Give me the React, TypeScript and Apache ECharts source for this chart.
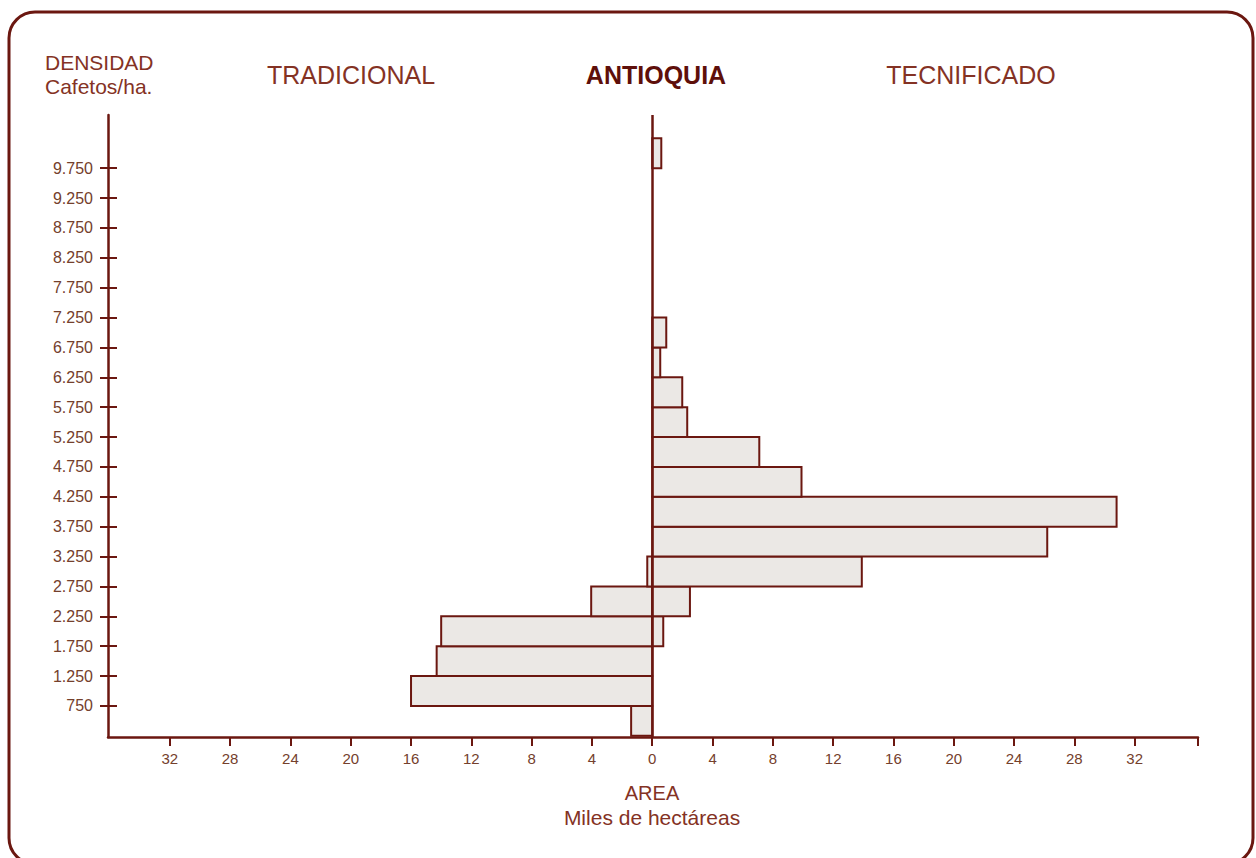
import React, { useEffect, useRef } from "react";
import * as echarts from "echarts";

const densities = [500, 1000, 1500, 2000, 2500, 3000, 3500, 4000, 4500, 5000, 5500, 6000, 6500, 7000, 7500, 8000, 8500, 9000, 9500, 10000];
const tradicional = [1.4, 16.0, 14.3, 14.0, 4.05, 0.33, 0, 0, 0, 0, 0, 0, 0, 0, 0, 0, 0, 0, 0, 0];
const tecnificado = [0, 0, 0, 0.73, 2.5, 13.9, 26.2, 30.8, 9.9, 7.1, 2.32, 1.99, 0.53, 0.93, 0, 0, 0, 0, 0, 0.6];
const xTickValues = [-32, -28, -24, -20, -16, -12, -8, -4, 0, 4, 8, 12, 16, 20, 24, 28, 32];
const yTickValues = [750, 1250, 1750, 2250, 2750, 3250, 3750, 4250, 4750, 5250, 5750, 6250, 6750, 7250, 7750, 8250, 8750, 9250, 9750];
const bandHalf = 250;
const xMin = -36.1;
const xMax = 36.2;
const yMin = 230;
const yMax = 10640;

const AXIS = "#6b1710";
const LABEL = "#74402c";
const TITLE = "#843224";
const FILL = "#ebe8e5";
const FONT = "'Liberation Sans', Arial, Helvetica, sans-serif";

const fmt = (v: number) => String(v).replace(/\B(?=(\d{3})+(?!\d))/g, ".");

export default function App() {
  const ref = useRef<HTMLDivElement>(null);
  useEffect(() => {
    const chart = echarts.init(ref.current!, null, { renderer: "svg" });
    const renderItem = (params: any, api: any) => {
      const v = api.value(0);
      const d = api.value(1);
      if (!v) return null;
      const p1 = api.coord([0, d + bandHalf]);
      const p2 = api.coord([v, d - bandHalf]);
      return {
        type: "rect",
        shape: {
          x: Math.min(p1[0], p2[0]),
          y: p1[1],
          width: Math.abs(p2[0] - p1[0]),
          height: p2[1] - p1[1],
        },
        style: { fill: FILL, stroke: AXIS, lineWidth: 2 },
      };
    };
    chart.setOption({
      animation: false,
      backgroundColor: "#ffffff",
      grid: { left: 108, right: 58, top: 115, bottom: 121 },
      xAxis: {
        type: "value",
        min: xMin,
        max: xMax,
        splitLine: { show: false },
        axisLine: { show: true, onZero: false, lineStyle: { color: AXIS, width: 2.5 } },
        axisTick: {
          show: true,
          length: 9,
          customValues: [...xTickValues, xMax],
          lineStyle: { color: AXIS, width: 2 },
        },
        axisLabel: {
          customValues: xTickValues,
          formatter: (v: number) => String(Math.abs(v)),
          color: LABEL,
          fontSize: 15,
          fontFamily: FONT,
          margin: 14,
        },
      },
      yAxis: [
        {
          type: "value",
          min: yMin,
          max: yMax,
          position: "left",
          splitLine: { show: false },
          axisLine: { show: true, onZero: false, lineStyle: { color: AXIS, width: 2.5 } },
          axisTick: { show: true, length: 8, customValues: yTickValues, lineStyle: { color: AXIS, width: 2 } },
          axisLabel: {
            customValues: yTickValues,
            formatter: (v: number) => fmt(v),
            color: LABEL,
            fontSize: 16,
            fontFamily: FONT,
            margin: 15,
          },
        },
        {
          type: "value",
          min: yMin,
          max: yMax,
          position: "left",
          splitLine: { show: false },
          axisLine: { show: false, onZero: false },
          axisTick: { show: true, inside: true, length: 9, customValues: yTickValues, lineStyle: { color: AXIS, width: 2 } },
          axisLabel: { show: false },
        },
      ],
      series: [
        {
          name: "Tradicional",
          type: "custom",
          renderItem,
          encode: { x: 0, y: 1 },
          data: tradicional.map((v, i) => [-v, densities[i]]),
        },
        {
          name: "Tecnificado",
          type: "custom",
          renderItem,
          encode: { x: 0, y: 1 },
          data: tecnificado.map((v, i) => [v, densities[i]]),
          markLine: {
            silent: true,
            symbol: "none",
            label: { show: false },
            lineStyle: { color: AXIS, width: 2.5, type: "solid" },
            data: [{ xAxis: 0 }],
            z: 10,
          },
        },
      ],
      graphic: [
        {
          type: "rect",
          shape: { x: 9, y: 12, width: 1244, height: 852, r: 26 },
          style: { fill: "none", stroke: AXIS, lineWidth: 3 },
          silent: true,
        },
        { type: "text", x: 45, y: 62, style: { text: "DENSIDAD", fill: TITLE, font: `21px ${FONT}`, textAlign: "left", textVerticalAlign: "middle" } },
        { type: "text", x: 45, y: 86, style: { text: "Cafetos/ha.", fill: TITLE, font: `21px ${FONT}`, textAlign: "left", textVerticalAlign: "middle" } },
        { type: "text", x: 351, y: 75, style: { text: "TRADICIONAL", fill: TITLE, font: `25px ${FONT}`, textAlign: "center", textVerticalAlign: "middle" } },
        { type: "text", x: 656, y: 75, style: { text: "ANTIOQUIA", fill: "#5e0f0a", font: `bold 25px ${FONT}`, textAlign: "center", textVerticalAlign: "middle" } },
        { type: "text", x: 971, y: 75, style: { text: "TECNIFICADO", fill: TITLE, font: `25px ${FONT}`, textAlign: "center", textVerticalAlign: "middle" } },
        { type: "text", x: 652, y: 793, style: { text: "AREA", fill: TITLE, font: `20px ${FONT}`, textAlign: "center", textVerticalAlign: "middle" } },
        { type: "text", x: 652, y: 817, style: { text: "Miles de hectáreas", fill: TITLE, font: `21px ${FONT}`, textAlign: "center", textVerticalAlign: "middle" } },
      ],
    });
    return () => chart.dispose();
  }, []);
  return (
    <div
      ref={ref}
      style={{ position: "absolute", left: 0, top: 0, width: 1256, height: 858, background: "#ffffff" }}
    />
  );
}
